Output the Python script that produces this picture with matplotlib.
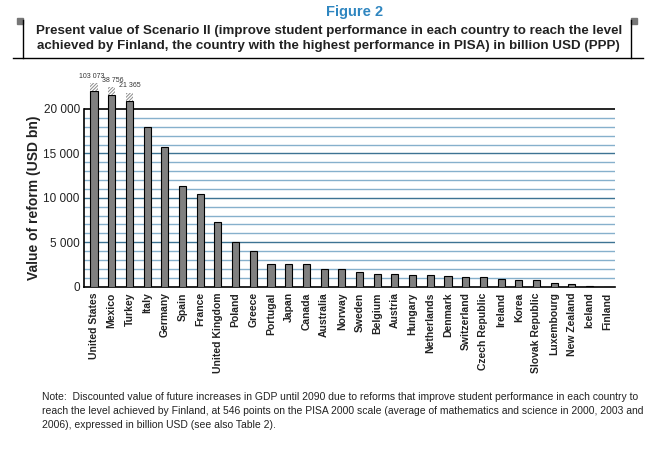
import numpy as np
import matplotlib
matplotlib.use("Agg")
import matplotlib.pyplot as plt
from matplotlib.ticker import FuncFormatter

# data (billion USD, PPP)
countries = ["United States", "Mexico", "Turkey", "Italy", "Germany", "Spain",
             "France", "United Kingdom", "Poland", "Greece", "Portugal", "Japan",
             "Canada", "Australia", "Norway", "Sweden", "Belgium", "Austria",
             "Hungary", "Netherlands", "Denmark", "Switzerland", "Czech Republic",
             "Ireland", "Korea", "Slovak Republic", "Luxembourg", "New Zealand",
             "Iceland", "Finland"]
values = [103073, 38756, 21365, 18000, 15700, 11300, 10400, 7250, 5000, 3980,
          2520, 2520, 2520, 1960, 1960, 1620, 1400, 1400, 1290, 1290, 1170,
          1060, 1060, 830, 720, 720, 380, 270, 80, 0]
break_labels = ["103 073", "38 756", "21 365"]

# drawing of the broken bars (off-scale values)
AXIS_MAX = 20000
BREAK_GRAY_TOP = [22000, 21550, 20900]
BREAK_HATCH = 900
LABEL_DX = [-1.5, 1.0, 0.0]

FONT = ["Liberation Sans", "DejaVu Sans"]
plt.rcParams["font.family"] = FONT
plt.rcParams["hatch.linewidth"] = 0.7

fig = plt.figure(figsize=(6.71, 4.54), dpi=100)
ax = fig.add_axes([0.1252, 0.3685, 0.7913, 0.46])

x = np.arange(len(countries))
shown = [min(v, AXIS_MAX) for v in values]
for i, top in enumerate(BREAK_GRAY_TOP):
    shown[i] = top

# grid
for g in range(1000, AXIS_MAX, 1000):
    col = "#3d7393" if g % 5000 == 0 else "#86b0cc"
    ax.axhline(g, color=col, lw=1.0, zorder=1)
ax.axhline(AXIS_MAX, color="black", lw=1.2, zorder=1)

ax.bar(x, shown, width=0.4, color="#808080", edgecolor="black", lw=0.8, zorder=3)
for i, top in enumerate(BREAK_GRAY_TOP):
    ax.bar(x[i], BREAK_HATCH, bottom=top, width=0.4, color="white",
           edgecolor="#8c8c8c", hatch="/" * 10, lw=0, zorder=3, clip_on=False)
    ax.annotate(break_labels[i], (x[i], top + BREAK_HATCH), xytext=(LABEL_DX[i], 2.5),
                textcoords="offset points", ha="center", va="bottom",
                fontsize=5, color="#333333", annotation_clip=False)

ax.set_xlim(-0.565, 29.435)
ax.set_ylim(0, 23500)
ax.spines["top"].set_visible(False)
ax.spines["right"].set_visible(False)
ax.spines["left"].set_bounds(0, AXIS_MAX)
ax.spines["left"].set_linewidth(1.2)
ax.spines["bottom"].set_linewidth(1.2)

ax.set_yticks(range(0, AXIS_MAX + 1, 5000))
ax.yaxis.set_major_formatter(FuncFormatter(lambda v, p: f"{int(v):,}".replace(",", " ")))
ax.tick_params(axis="y", length=0, pad=3, labelsize=8.5, colors="#222222")
ax.set_xticks(x)
ax.set_xticklabels(countries, rotation=90, fontsize=7.5, fontweight="bold",
                   color="#222222")
ax.tick_params(axis="x", length=0, pad=4)
ax.set_ylabel("Value of reform (USD bn)", fontsize=10, fontweight="bold",
              color="#222222")
ax.yaxis.set_label_coords(-0.081, AXIS_MAX / 2 / 23500)

# title block
fig.text(0.529, 0.973, "Figure 2", ha="center", va="center", fontsize=10.5,
         fontweight="bold", color="#2f86c0")
fig.text(0.49, 0.915,
         "Present value of Scenario II (improve student performance in each country to reach the level\n"
         "achieved by Finland, the country with the highest performance in PISA) in billion USD (PPP)",
         ha="center", va="center", fontsize=9.6, fontweight="bold", color="#222222",
         linespacing=1.3)
fig.add_artist(plt.Line2D([0.019, 0.958], [0.872, 0.872], color="black", lw=1))
fig.add_artist(plt.Line2D([0.034, 0.034], [0.872, 0.955], color="black", lw=1))
fig.add_artist(plt.Line2D([0.940, 0.940], [0.872, 0.955], color="black", lw=1))
fig.add_artist(plt.Rectangle((0.026, 0.947), 0.009, 0.014, color="#777777"))
fig.add_artist(plt.Rectangle((0.940, 0.947), 0.009, 0.014, color="#777777"))

note = ("Note:  Discounted value of future increases in GDP until 2090 due to reforms that improve student performance in each country to\n"
        "reach the level achieved by Finland, at 546 points on the PISA 2000 scale (average of mathematics and science in 2000, 2003 and\n"
        "2006), expressed in billion USD (see also Table 2).")
fig.text(0.062, 0.095, note, ha="left", va="center", fontsize=7.5, color="#222222",
         linespacing=1.5)

fig.savefig("out.png", dpi=100)
